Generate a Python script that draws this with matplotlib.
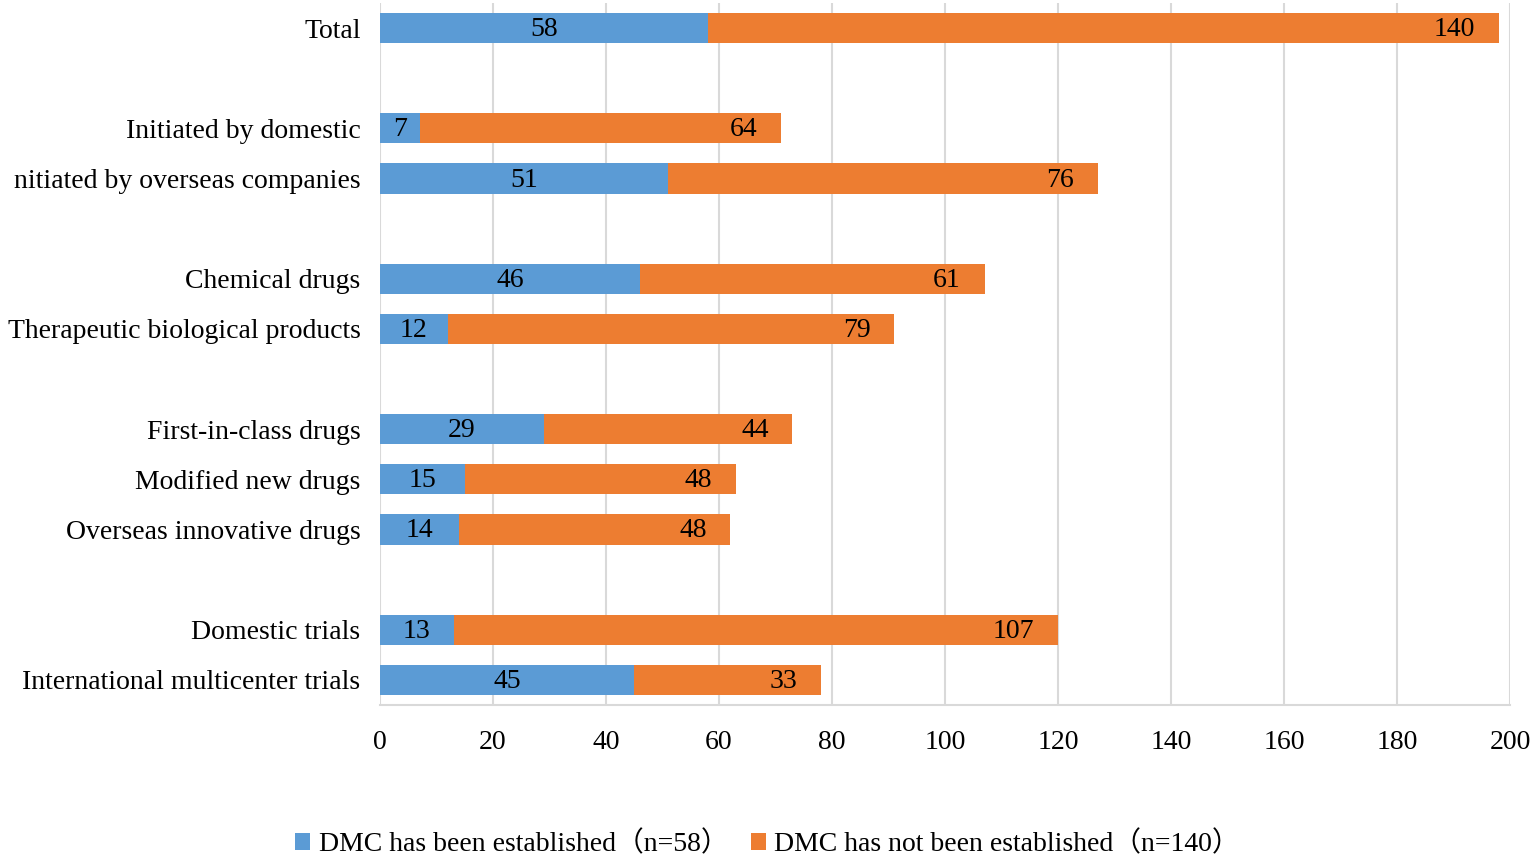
import matplotlib.pyplot as plt

# data
categories = ["Total",
              "Initiated by domestic", "nitiated by overseas companies",
              "Chemical drugs", "Therapeutic biological products",
              "First-in-class drugs", "Modified new drugs", "Overseas innovative drugs",
              "Domestic trials", "International multicenter trials"]
group_sizes = [1, 2, 2, 3, 2]
established = [58, 7, 51, 46, 12, 29, 15, 14, 13, 45]
not_established = [140, 64, 76, 61, 79, 44, 48, 48, 107, 33]
xticks = [0, 20, 40, 60, 80, 100, 120, 140, 160, 180, 200]

blue = "#5B9BD5"
orange = "#ED7D31"
fonts = ["Liberation Serif", "Noto Sans CJK SC"]
plt.rcParams["font.family"] = fonts
fs = 20

# y positions with a blank slot between the groups
ypos = []
slot = 0
for g in group_sizes:
    for i in range(g):
        ypos.append(slot)
        slot += 1
    slot += 1

fig = plt.figure(figsize=(15.35, 8.61), dpi=100)
ax = fig.add_axes([0.2476, 0.1812, 0.7361, 0.8153])

b1 = ax.barh(ypos, established, height=0.6, color=blue, zorder=3,
             label="DMC has been established\uff08n=58\uff09")
b2 = ax.barh(ypos, not_established, left=established, height=0.6, color=orange, zorder=3,
             label="DMC has not been established\uff08n=140\uff09")

for y, a, b in zip(ypos, established, not_established):
    ax.text(a / 2, y + 0.03, str(a), ha="center", va="center", fontsize=fs, zorder=4)
    ax.annotate(str(b), (a + b, y + 0.03), xytext=(-17, 0), textcoords="offset points",
                ha="right", va="center", fontsize=fs, zorder=4)

ax.set_ylim(slot - 1.5, -0.5)
ax.set_xlim(0, 200)
ax.set_xticks(xticks)
ax.set_yticks(ypos)
ax.set_yticklabels(categories, fontsize=fs)
ax.tick_params(axis="x", labelsize=fs, length=0, pad=18)
ax.tick_params(axis="y", length=0, pad=14)
ax.grid(axis="x", color="#D9D9D9", linewidth=1.5, zorder=0)
for s in ["top", "right", "left"]:
    ax.spines[s].set_visible(False)
ax.spines["bottom"].set_color("#D9D9D9")
ax.spines["bottom"].set_linewidth(1.5)

fig.legend(handles=[b1, b2], loc="lower center", bbox_to_anchor=(0.5, -0.025),
           ncol=2, frameon=False, fontsize=fs, handlelength=0.55, handleheight=0.55,
           handletextpad=0.3, columnspacing=0.8)

fig.savefig("out.png", dpi=100)
